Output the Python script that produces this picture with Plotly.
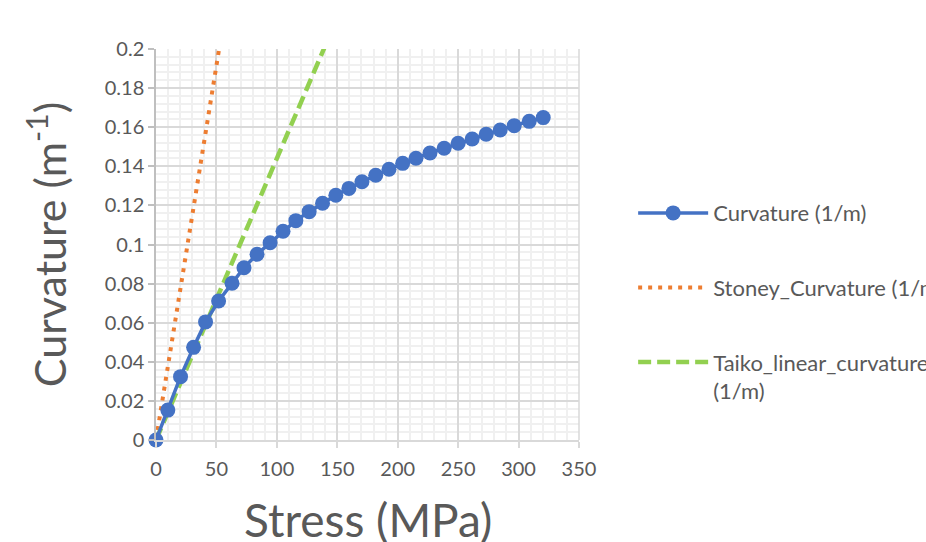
import plotly.graph_objects as go

# Data
stress = [0, 9.8, 20.3, 31.1, 41.0, 51.8, 62.9, 72.8, 83.6, 94.4, 105.1, 115.7,
          126.7, 137.8, 148.8, 159.6, 170.4, 181.8, 192.8, 204.1, 215.1, 226.7,
          238.4, 250.0, 261.6, 273.2, 284.8, 296.4, 308.8, 320.4]
curvature = [0, 0.0153, 0.0324, 0.0474, 0.0604, 0.0711, 0.0802, 0.0881, 0.0950,
             0.1009, 0.1068, 0.1122, 0.1168, 0.1211, 0.1252, 0.1287, 0.1321,
             0.1354, 0.1385, 0.1415, 0.1441, 0.1468, 0.1492, 0.1518, 0.1540,
             0.1564, 0.1586, 0.1608, 0.1630, 0.1649]

stoney_x = [0, 9.8, 20.3, 31.1, 41.0, 51.8, 62.9]
stoney_y = [0, 0.0375, 0.0778, 0.1191, 0.1570, 0.1984, 0.2409]

taiko_x = [0, 9.8, 20.3, 31.1, 41.0, 51.8, 62.9, 72.8, 83.6, 94.4, 105.1, 115.7,
           126.7, 137.8, 148.8]
taiko_y = [0, 0.0141, 0.0292, 0.0448, 0.0590, 0.0746, 0.0906, 0.1048, 0.1204,
           0.1359, 0.1513, 0.1666, 0.1824, 0.1984, 0.2143]

x_ticks = [0, 50, 100, 150, 200, 250, 300, 350]
y_ticks = [0, 0.02, 0.04, 0.06, 0.08, 0.1, 0.12, 0.14, 0.16, 0.18, 0.2]
y_tick_labels = ["0", "0.02", "0.04", "0.06", "0.08", "0.1", "0.12", "0.14",
                 "0.16", "0.18", "0.2"]

FONT = "Lato"
TXT = "#595959"

fig = go.Figure()
fig.add_trace(go.Scatter(
    x=stoney_x, y=stoney_y, mode="lines", name="Stoney_Curvature (1/m)",
    line=dict(color="#ED7D31", width=4, dash="4px,6px"), legendgroup="b",
    legendrank=2))
fig.add_trace(go.Scatter(
    x=taiko_x, y=taiko_y, mode="lines", name="Taiko_linear_curvature<br>(1/m)",
    line=dict(color="#92D050", width=4.5, dash="13px,6px"), legendgroup="c",
    legendrank=3))
fig.add_trace(go.Scatter(
    x=stress, y=curvature, mode="lines+markers", name="Curvature (1/m)",
    line=dict(color="#4472C4", width=3.5), cliponaxis=False,
    marker=dict(color="#4472C4", size=15), legendgroup="a", legendrank=1))

fig.update_layout(
    width=926, height=542,
    margin=dict(l=156, r=347, t=49, b=102, autoexpand=False),
    paper_bgcolor="white", plot_bgcolor="white",
    font=dict(family=FONT, color=TXT, size=20),
    showlegend=True,
    legend=dict(x=1.128, xanchor="left", y=0.634, yanchor="top",
                font=dict(family=FONT, size=22, color=TXT),
                itemwidth=70, tracegroupgap=43, valign="top",
                bgcolor="rgba(0,0,0,0)", traceorder="grouped"),
    annotations=[dict(text="Stress (MPa)", xref="paper", yref="paper",
                      x=0.5, y=-0.204, xanchor="center", yanchor="middle",
                      showarrow=False,
                      font=dict(family=FONT, size=46, color=TXT))],
)
fig.update_xaxes(
    range=[0, 350], tickvals=x_ticks, ticktext=[str(v) for v in x_ticks],
    showgrid=True, gridcolor="#D9D9D9", gridwidth=1.5,
    minor=dict(dtick=10, showgrid=True, gridcolor="#F0F0F0", gridwidth=1.5),
    zeroline=False, showline=True, linecolor="#D9D9D9", linewidth=1.5,
    ticks="outside", ticklen=6, tickcolor="#D9D9D9", tickwidth=1.5,
    ticklabelstandoff=4,
    tickfont=dict(family=FONT, size=20, color=TXT),
    mirror=False,
)
fig.update_yaxes(
    range=[0, 0.2], tickvals=y_ticks, ticktext=y_tick_labels,
    showgrid=True, gridcolor="#D9D9D9", gridwidth=1.5,
    minor=dict(dtick=0.004, showgrid=True, gridcolor="#F0F0F0", gridwidth=1.5),
    zeroline=False, showline=True, linecolor="#BFBFBF", linewidth=1.5,
    ticks="outside", ticklen=6, tickcolor="#BFBFBF", tickwidth=1.5,
    tickfont=dict(family=FONT, size=20, color=TXT),
    title=dict(text="Curvature (m<sup>-1</sup>)",
               font=dict(family=FONT, size=43, color=TXT), standoff=25),
)
# right border line of plot area
fig.add_shape(type="line", xref="paper", yref="paper", x0=1, x1=1, y0=0, y1=1,
              line=dict(color="#D9D9D9", width=1.5))

fig.write_html("out.html")
